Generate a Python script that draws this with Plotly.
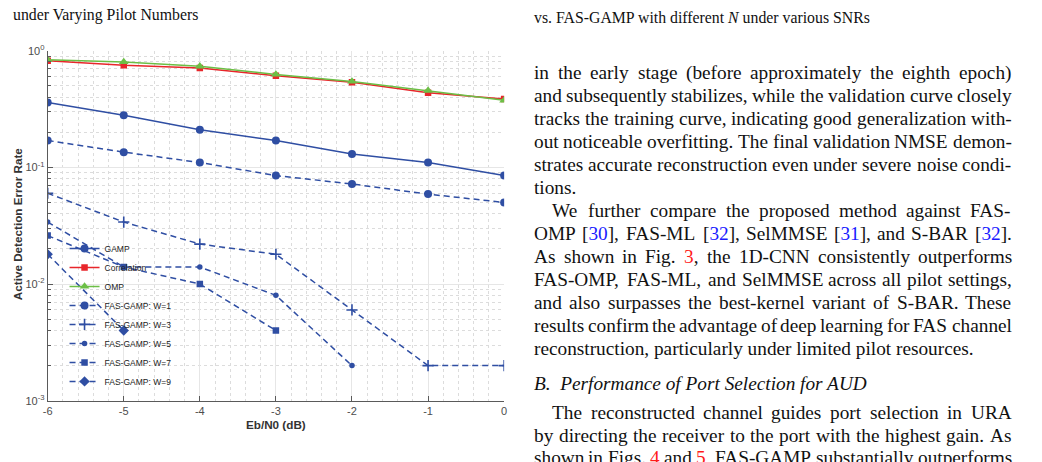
import re
import plotly.graph_objects as go

# ---------------- data ----------------
snr_db = [-6, -5, -4, -3, -2, -1, 0]
x_tick_text = ["-6", "-5", "-4", "-3", "-2", "-1", "0"]
y_tick_vals = [1e-3, 1e-2, 1e-1, 1.0]
y_tick_text = ["10<sup>-3</sup>", "10<sup>-2</sup>", "10<sup>-1</sup>", "10<sup>0</sup>"]

gamp = [0.36, 0.28, 0.21, 0.17, 0.13, 0.11, 0.085]
correlation = [0.82, 0.75, 0.71, 0.61, 0.535, 0.435, 0.385]
omp = [0.835, 0.80, 0.735, 0.625, 0.545, 0.455, 0.375]
fas_w1 = [0.17, 0.135, 0.11, 0.085, 0.072, 0.059, 0.05]
fas_w3 = [0.06, 0.034, 0.022, 0.018, 0.006, 0.002, 0.002]
fas_w5 = [0.034, 0.014, 0.014, 0.008, 0.002]
fas_w7 = [0.026, 0.014, 0.010, 0.004]
fas_w9 = [0.018, 0.004]

series_names = ["GAMP", "Correlation", "OMP", "FAS-GAMP: W=1", "FAS-GAMP: W=3",
                "FAS-GAMP: W=5", "FAS-GAMP: W=7", "FAS-GAMP: W=9"]

x_label = "Eb/N0 (dB)"
y_label = "Active Detection Error Rate"

caption_left = "under Varying Pilot Numbers"
caption_right = "vs. FAS-GAMP with different <i>N</i> under various SNRs"

# surrounding paper text: (text, justified, indent)
paper_lines = [
    ("in the early stage (before approximately the eighth epoch)", True, False),
    ("and subsequently stabilizes, while the validation curve closely", True, False),
    ("tracks the training curve, indicating good generalization with-", True, False),
    ("out noticeable overfitting. The final validation NMSE demon-", True, False),
    ("strates accurate reconstruction even under severe noise condi-", True, False),
    ("tions.", False, False),
    ("We further compare the proposed method against FAS-", True, True),
    ("OMP [<span style='color:#1a1aff'>30</span>], FAS-ML [<span style='color:#1a1aff'>32</span>], "
     "SelMMSE [<span style='color:#1a1aff'>31</span>], and S-BAR [<span style='color:#1a1aff'>32</span>].", True, False),
    ("As shown in Fig. <span style='color:#ff1a1a'>3</span>, the 1D-CNN consistently outperforms", True, False),
    ("FAS-OMP, FAS-ML, and SelMMSE across all pilot settings,", True, False),
    ("and also surpasses the best-kernel variant of S-BAR. These", True, False),
    ("results confirm the advantage of deep learning for FAS channel", True, False),
    ("reconstruction, particularly under limited pilot resources.", False, False),
    ("<i>B.  Performance of Port Selection for AUD</i>", False, False),
    ("The reconstructed channel guides port selection in URA", True, True),
    ("by directing the receiver to the port with the highest gain. As", True, False),
    ("shown in Figs. <span style='color:#ff1a1a'>4</span> and <span style='color:#ff1a1a'>5</span>, "
     "FAS-GAMP substantially outperforms", True, False),
]
paper_line_y = [66.7, 90.3, 113.9, 137.5, 161.1, 184.7, 209.0, 232.8, 256.6, 280.2,
                303.8, 327.6, 351.4, 387.0, 416.8, 440.4, 464.0]

# ---------------- styling ----------------
W, H = 1042, 462
BLUE = "#2f4ea3"
RED = "#e8262b"
GREEN = "#6cbf46"
AX = "#5a5a5a"

def px_x(p):
    return p / W

def px_y(p):
    return 1 - p / H

fig = go.Figure()

def add(name, y, color, symbol, size, dash, lw=1.5, thin=False):
    marker = dict(symbol=symbol, size=size, color=color)
    if thin:
        marker["line"] = dict(width=1.6, color=color)
    fig.add_trace(go.Scatter(
        x=snr_db[:len(y)], y=y, name=name, mode="lines+markers",
        line=dict(color=color, width=lw, dash=dash), marker=marker))

add(series_names[0], gamp, BLUE, "circle", 8, "solid")
add(series_names[1], correlation, RED, "square", 6.5, "solid")
add(series_names[2], omp, GREEN, "triangle-up", 8.5, "solid")
add(series_names[3], fas_w1, BLUE, "circle", 8, "6px,4px")
add(series_names[4], fas_w3, BLUE, "cross-thin", 8, "6px,4px", thin=True)
add(series_names[5], fas_w5, BLUE, "circle", 5.5, "6px,4px")
add(series_names[6], fas_w7, BLUE, "square", 6.5, "6px,4px")
add(series_names[7], fas_w9, BLUE, "diamond", 8, "6px,4px")

minor_y = [m * 10.0 ** e for e in (-3, -2, -1) for m in range(2, 10)]

fig.update_layout(
    width=W, height=H,
    margin=dict(l=0, r=0, t=0, b=0),
    paper_bgcolor="white", plot_bgcolor="white",
    font=dict(family="Liberation Sans, Arial, sans-serif", size=11, color="#4d4d4d"),
    xaxis=dict(
        domain=[px_x(43), px_x(503)], range=[-6, 0],
        tickmode="array", tickvals=snr_db, ticktext=x_tick_text,
        ticks="inside", ticklen=5, tickcolor=AX, tickwidth=1,
        showline=True, linecolor=AX, linewidth=1,
        showgrid=True, gridcolor="#e6e6e6", gridwidth=1, zeroline=False,
        minor=dict(dtick=0.2, showgrid=True, gridcolor="#dcdcdc", griddash="dot", gridwidth=1),
        tickfont=dict(size=11, color="#4d4d4d"),
    ),
    yaxis=dict(
        domain=[px_y(405), px_y(44)], type="log", range=[-3, 0],
        tickmode="array", tickvals=y_tick_vals, ticktext=y_tick_text,
        ticks="inside", ticklen=5, tickcolor=AX, tickwidth=1,
        showline=True, linecolor=AX, linewidth=1,
        showgrid=True, gridcolor="#e6e6e6", gridwidth=1, zeroline=False,
        minor=dict(tickmode="array", tickvals=minor_y, ticks="inside", ticklen=3,
                   tickcolor=AX, showgrid=True, gridcolor="#dcdcdc", griddash="dot", gridwidth=1),
        tickfont=dict(size=11, color="#4d4d4d"),
    ),
    legend=dict(
        x=px_x(60), y=px_y(400), xanchor="left", yanchor="bottom",
        bgcolor="rgba(0,0,0,0)", borderwidth=0, itemwidth=30,
        font=dict(family="Liberation Sans, Arial, sans-serif", size=8.5, color="#222"),
        tracegroupgap=0,
    ),
)

ann = []
ann.append(dict(text="<b>%s</b>" % y_label, x=px_x(12), y=px_y(223), xref="paper", yref="paper",
                textangle=-90, showarrow=False, font=dict(size=11.7, color="#333"),
                xanchor="center", yanchor="middle"))
ann.append(dict(text="<b>%s</b>" % x_label, x=px_x(273), y=px_y(430), xref="paper", yref="paper",
                showarrow=False, font=dict(size=11.7, color="#333"),
                xanchor="center", yanchor="middle"))

SERIF = "Liberation Serif, Times New Roman, serif"
ann.append(dict(text=caption_left, x=px_x(6), y=px_y(7), xref="paper", yref="paper",
                showarrow=False, xanchor="left", yanchor="middle",
                font=dict(family=SERIF, size=15.8, color="#111")))
ann.append(dict(text=caption_right, x=px_x(531), y=px_y(9.5), xref="paper", yref="paper",
                showarrow=False, xanchor="left", yanchor="middle",
                font=dict(family=SERIF, size=15.8, color="#111")))

# Times metric widths (1/1000 em) for justification
TW = {" ": 250, ",": 250, "-": 333, ".": 250, "(": 333, ")": 333, "[": 333, "]": 333, ":": 278}
for c in "0123456789":
    TW[c] = 500
TW.update(dict(zip("ABCDEFGHIJKLMNOPQRSTUVWXYZ",
                   [722, 667, 667, 722, 611, 556, 722, 722, 333, 389, 722, 611, 889,
                    722, 722, 556, 722, 667, 556, 611, 722, 722, 944, 722, 722, 611])))
TW.update(dict(zip("abcdefghijklmnopqrstuvwxyz",
                   [444, 500, 444, 500, 444, 333, 500, 500, 278, 278, 500, 278, 778,
                    500, 500, 500, 500, 333, 389, 278, 500, 500, 722, 500, 500, 444])))

FS = 19.3
LEFT, RIGHT, INDENT = 532.0, 1013.0, 18.0

def plain(s):
    return re.sub(r"<[^>]+>", "", s)

def width(s):
    return sum(TW.get(c, 500) for c in plain(s)) * FS / 1000.0

for (txt, just, indent), yp in zip(paper_lines, paper_line_y):
    x0 = LEFT + (INDENT if indent else 0)
    if not just:
        ann.append(dict(text=txt, x=px_x(x0), y=px_y(yp), xref="paper", yref="paper",
                        showarrow=False, xanchor="left", yanchor="middle", borderpad=0,
                        font=dict(family=SERIF, size=FS, color="#111")))
        continue
    words = re.split(r" (?![^<]*>)", txt)
    total = sum(width(w) for w in words)
    gap = (RIGHT - x0 - total) / max(len(words) - 1, 1)
    xc = x0
    for w in words:
        ann.append(dict(text=w, x=px_x(xc), y=px_y(yp), xref="paper", yref="paper",
                        showarrow=False, xanchor="left", yanchor="middle", borderpad=0,
                        font=dict(family=SERIF, size=FS, color="#111")))
        xc += width(w) + gap

fig.update_layout(annotations=ann)
fig.write_html("out.html")
